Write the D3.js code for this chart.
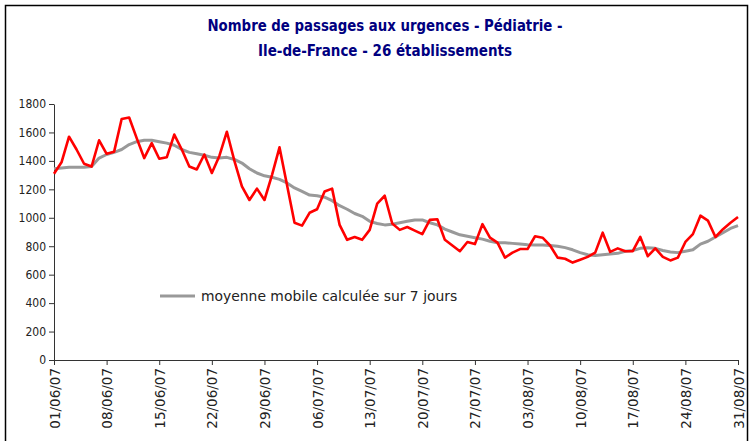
<!DOCTYPE html>
<html>
<head>
<meta charset="utf-8">
<script src="https://cdn.jsdelivr.net/npm/d3@7"></script>
<style>
  body { margin: 0; background: #fff; }
  svg { display: block; }
</style>
</head>
<body>
<div id="my_dataviz"></div>
<script>
// title lines
const titleLines = ["Nombre de passages aux urgences - Pédiatrie -", "Ile-de-France - 26 établissements"];
const legendLabel = "moyenne mobile calculée sur 7 jours";

// first day of the series (one value per day, 01/06/07 -> 31/08/07)
const startDate = "2007-06-01";

// daily counts (red)
const passages = [
  1310, 1390, 1570, 1480, 1380, 1360, 1545, 1450, 1465, 1695,
  1705, 1560, 1420, 1525, 1415, 1425, 1585, 1480, 1360, 1340,
  1445, 1315, 1435, 1605, 1400, 1220, 1125, 1205, 1125, 1300,
  1495, 1230, 965, 945, 1035, 1060, 1185, 1205, 950, 845,
  865, 845, 915, 1100, 1155, 960, 915, 935, 910, 885,
  985, 990, 845, 805, 765, 830, 815, 955, 860, 825,
  720, 755, 780, 780, 870, 860, 805, 720, 712, 685,
  705, 725, 755, 895, 760, 785, 765, 765, 865, 730,
  785, 725, 700, 720, 830, 885, 1015, 980, 865, 920,
  965, 1005
];

// 7-day moving average (grey)
const moyenne = [
  1345, 1350, 1355, 1355, 1355, 1360, 1420, 1445, 1460, 1480,
  1515, 1535, 1545, 1545, 1535, 1525, 1510, 1480, 1460, 1450,
  1440, 1425, 1420, 1425, 1410, 1385, 1345, 1315, 1295, 1285,
  1270, 1245, 1210, 1185, 1160, 1155, 1145, 1120, 1085, 1060,
  1030, 1010, 975, 960, 950, 955, 965, 975, 985, 985,
  965, 950, 920, 900, 880, 870, 860, 850, 835, 825,
  825, 820, 815, 810, 808, 808, 805, 800, 790, 775,
  755, 740, 735, 740, 745, 750, 765, 770, 785, 790,
  785, 770, 760, 755, 765, 775, 815, 835, 865, 895,
  925, 945
];

// y axis ticks
const yTicks = [0, 200, 400, 600, 800, 1000, 1200, 1400, 1600, 1800];

const width = 753, height = 441;
const plot = {left: 54, right: 738, top: 104, bottom: 360};

const svg = d3.select("#my_dataviz")
  .append("svg")
    .attr("width", width)
    .attr("height", height);

// outer frame
svg.append("rect")
  .attr("x", 5.5)
  .attr("y", 5.5)
  .attr("width", 742)
  .attr("height", 460)
  .attr("fill", "none")
  .attr("stroke", "#000")
  .attr("stroke-width", 1.5);

// title (squeezed to the width of the original condensed font)
const titleWidths = [355, 254];
svg.selectAll(".title")
  .data(titleLines)
  .join("text")
    .attr("class", "title")
    .attr("x", 385)
    .attr("y", (d, i) => 31 + i * 25)
    .attr("text-anchor", "middle")
    .attr("textLength", (d, i) => titleWidths[i])
    .attr("lengthAdjust", "spacingAndGlyphs")
    .style("font-family", "'DejaVu Sans Condensed', 'DejaVu Sans', sans-serif")
    .style("font-size", "16px")
    .style("font-weight", "bold")
    .style("fill", "#000080")
    .text(d => d);

const parse = d3.timeParse("%Y-%m-%d");
const day0 = parse(startDate);
const dates = passages.map((v, i) => d3.timeDay.offset(day0, i));

const x = d3.scaleTime()
  .domain([dates[0], dates[dates.length - 1]])
  .range([plot.left, plot.right]);

const y = d3.scaleLinear()
  .domain([0, 1800])
  .range([plot.bottom, plot.top]);

// Y axis
const yAxis = svg.append("g")
  .attr("transform", `translate(${plot.left},0)`)
  .call(d3.axisLeft(y).tickValues(yTicks).tickFormat(d3.format("d")).tickSize(5).tickSizeOuter(0).tickPadding(3));
yAxis.select(".domain").attr("stroke", "#333");
yAxis.selectAll(".tick line").attr("stroke", "#333");
yAxis.selectAll(".tick text")
  .style("font-family", "'DejaVu Sans Condensed', 'DejaVu Sans', sans-serif")
  .style("font-size", "12px")
  .style("fill", "#222");

// X axis, one tick per week
const weekTicks = dates.filter((d, i) => i % 7 === 0);
const xAxis = svg.append("g")
  .attr("transform", `translate(0,${plot.bottom})`)
  .call(d3.axisBottom(x).tickValues(weekTicks).tickFormat(d3.timeFormat("%d/%m/%y")).tickSize(5).tickSizeOuter(0));
xAxis.select(".domain").attr("stroke", "#333");
xAxis.selectAll(".tick line").attr("stroke", "#333");
xAxis.selectAll(".tick text")
  .attr("text-anchor", "end")
  .attr("transform", "translate(5,8) rotate(-90)")
  .attr("x", 0)
  .attr("y", 0)
  .attr("dy", 0)
  .style("font-family", "'DejaVu Sans', sans-serif")
  .style("font-size", "13.5px")
  .style("fill", "#222");

// moving average
svg.append("path")
  .datum(moyenne)
  .attr("fill", "none")
  .attr("stroke", "#999999")
  .attr("stroke-width", 3)
  .attr("stroke-linejoin", "round")
  .attr("d", d3.line()
    .x((d, i) => x(dates[i]))
    .y(d => y(d))
  );

// daily values
svg.append("path")
  .datum(passages)
  .attr("fill", "none")
  .attr("stroke", "#ff0000")
  .attr("stroke-width", 2.6)
  .attr("stroke-linejoin", "round")
  .attr("d", d3.line()
    .x((d, i) => x(dates[i]))
    .y(d => y(d))
  );

// legend
svg.append("line")
  .attr("x1", 160)
  .attr("x2", 195)
  .attr("y1", 296)
  .attr("y2", 296)
  .attr("stroke", "#999999")
  .attr("stroke-width", 3);

svg.append("text")
  .attr("x", 201)
  .attr("y", 301)
  .style("font-family", "'DejaVu Sans', sans-serif")
  .style("font-size", "13.9px")
  .style("fill", "#222")
  .text(legendLabel);
</script>
</body>
</html>
